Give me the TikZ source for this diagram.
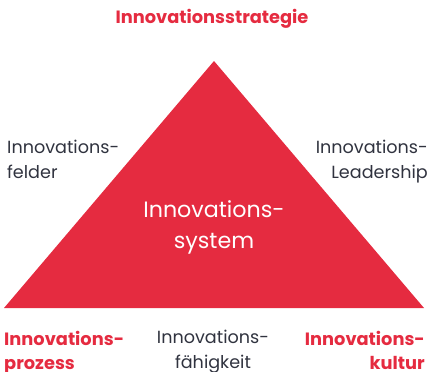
\documentclass[tikz,border=0pt]{standalone}
\usepackage{fontspec}
\setmainfont{Poppins}
\usepackage{xcolor}
\usetikzlibrary{positioning}

\definecolor{innored}{HTML}{E52B40}
\definecolor{innogray}{HTML}{30333F}

\begin{document}
\begin{tikzpicture}[
  x=1pt, y=-1pt,
  lbl/.style={font=\fontsize{17.6}{25}\selectfont, text=innogray, inner sep=0pt},
  key/.style={font=\fontsize{17.8}{24}\selectfont\bfseries, text=innored, inner sep=0pt},
  core/.style={font=\fontsize{22.2}{31}\selectfont, text=white, align=center, inner sep=0pt}
]
  \useasboundingbox (0,0) rectangle (431,372);
  % the triangle
  \coordinate (top) at (214,61);
  \coordinate (bl) at (4,308);
  \coordinate (br) at (424,308);
  \fill[innored] (top) -- (br) -- (bl) -- cycle;
  \node[core] (sys) at (214,227) {Innovations-\\system};
  % corners
  \node[key] (strat) at (212,19) {Innovationsstrategie};
  \node[key, align=left, anchor=north west] (proz) at (4,331) {Innovations-\\prozess};
  \node[key, align=right, anchor=north east] (kult) at (425,331) {Innovations-\\kultur};
  % sides
  \node[lbl, align=left, anchor=north west] (feld) at (7,140) {Innovations-\\felder};
  \node[lbl, align=right, anchor=north east] (lead) at (428,140) {Innovations-\\Leadership};
  \node[lbl, align=center, anchor=north] (faeh) at (213,330) {Innovations-\\fähigkeit};
\end{tikzpicture}
\end{document}
